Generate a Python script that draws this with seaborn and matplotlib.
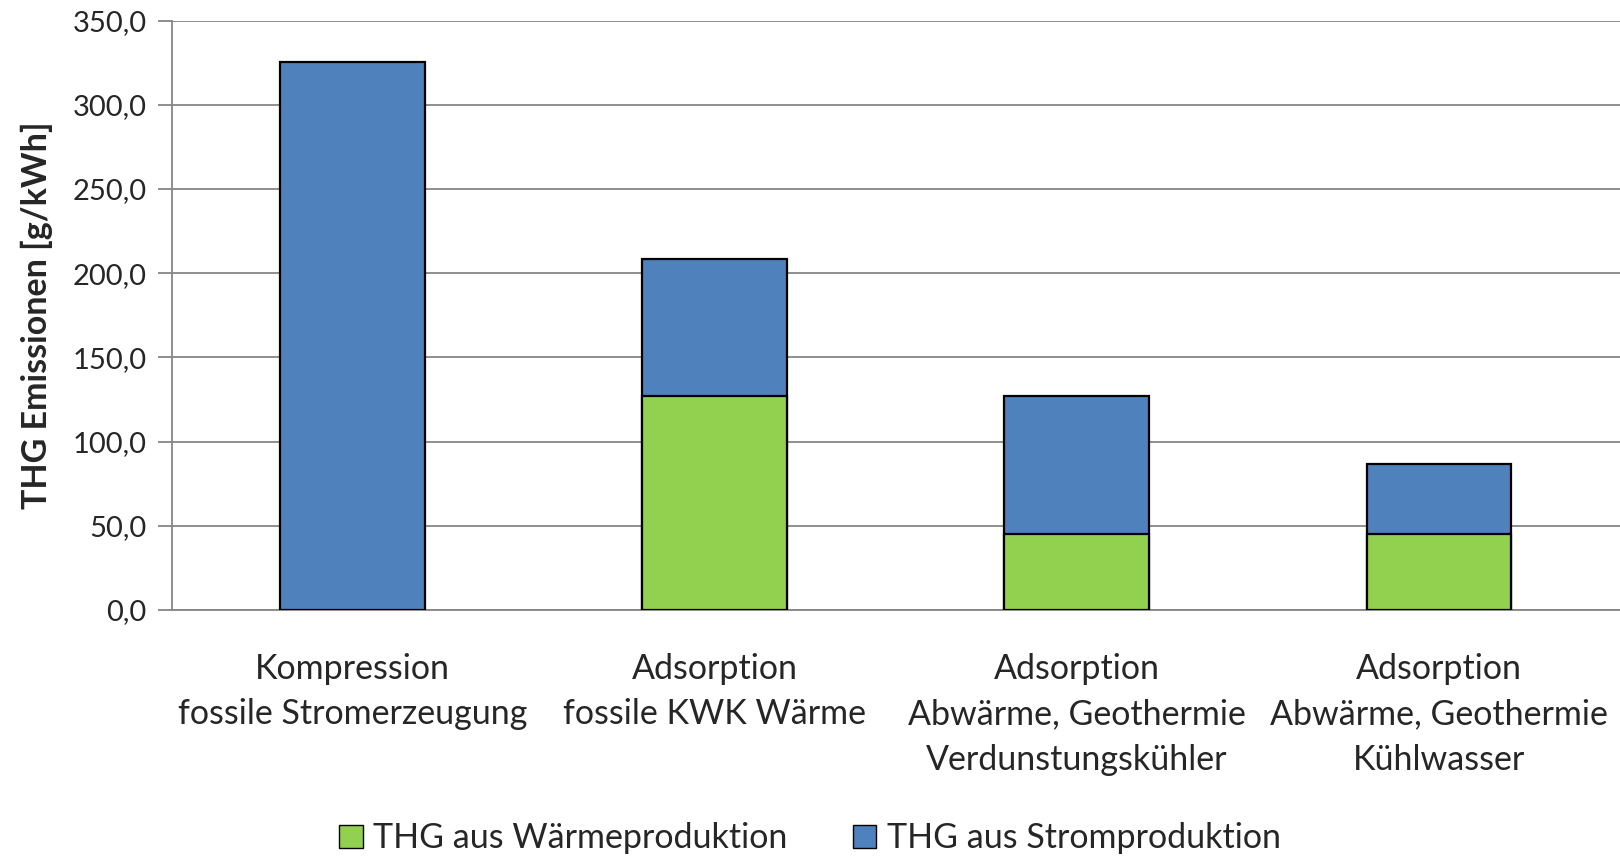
import numpy as np
import pandas as pd
import matplotlib
matplotlib.use('Agg')
import matplotlib.pyplot as plt
from matplotlib.patches import Patch
import seaborn as sns

# data
categories = ['Kompression\nfossile Stromerzeugung',
              'Adsorption\nfossile KWK Wärme',
              'Adsorption\nAbwärme, Geothermie\nVerdunstungskühler',
              'Adsorption\nAbwärme, Geothermie\nKühlwasser']
waerme = [0.0, 127.2, 45.3, 45.3]
strom = [325.3, 81.5, 81.9, 41.2]
series_names = ['THG aus Wärmeproduktion', 'THG aus Stromproduktion']

green = '#92D050'
blue = '#4F81BD'
grid_c = '#868686'

sns.set_style('white')
plt.rcParams['font.family'] = ['Lato', 'DejaVu Sans']

df = pd.DataFrame({'cat': categories, 'waerme': waerme, 'strom': strom})
df['total'] = df['waerme'] + df['strom']

fig = plt.figure(figsize=(16.2, 8.59), dpi=100)
ax = fig.add_axes([0.106, 0.29, 0.894, 0.686])

# stacked bars: total in blue, heat part in green over it
sns.barplot(data=df, x='cat', y='total', color=blue, width=0.4,
            edgecolor='black', linewidth=1.6, saturation=1, ax=ax, zorder=3)
sns.barplot(data=df[df['waerme'] > 0], x='cat', y='waerme', color=green, width=0.4,
            edgecolor='black', linewidth=1.6, saturation=1, ax=ax, zorder=4,
            order=categories)

ax.set_xlim(-0.5, 3.5)
ax.set_ylim(0, 350)
ax.set_yticks(np.arange(0, 351, 50))
ax.set_yticklabels([f'{v:.1f}'.replace('.', ',') for v in np.arange(0, 351, 50)], fontsize=21)
ax.yaxis.grid(True, color=grid_c, linewidth=1.3, zorder=0)
ax.set_axisbelow(True)

ax.set_xticks(range(4))
ax.set_xticklabels(categories, fontsize=24.5, linespacing=1.52)
ax.set_xticks([0.5, 1.5, 2.5], minor=True)
ax.tick_params(axis='x', which='major', length=0, pad=31)
ax.tick_params(axis='x', which='minor', length=10, width=1.3, color=grid_c, direction='out')
ax.tick_params(axis='y', length=10, width=1.3, color=grid_c, direction='out', left=True, pad=8)

for s in ['top', 'right']:
    ax.spines[s].set_visible(False)
for s in ['left', 'bottom']:
    ax.spines[s].set_color(grid_c)
    ax.spines[s].set_linewidth(1.3)

ax.set_xlabel('')
ax.set_ylabel('THG Emissionen [g/kWh]', fontsize=24.5, fontweight='bold', labelpad=14)

handles = [Patch(facecolor=green, edgecolor='black', label=series_names[0]),
           Patch(facecolor=blue, edgecolor='black', label=series_names[1])]
fig.legend(handles=handles, loc='center', bbox_to_anchor=(0.5, 0.024), ncol=2,
           frameon=False, fontsize=24.5, handlelength=0.7, handleheight=0.7,
           handletextpad=0.3, columnspacing=1.9)

fig.savefig('out.png', dpi=100)
